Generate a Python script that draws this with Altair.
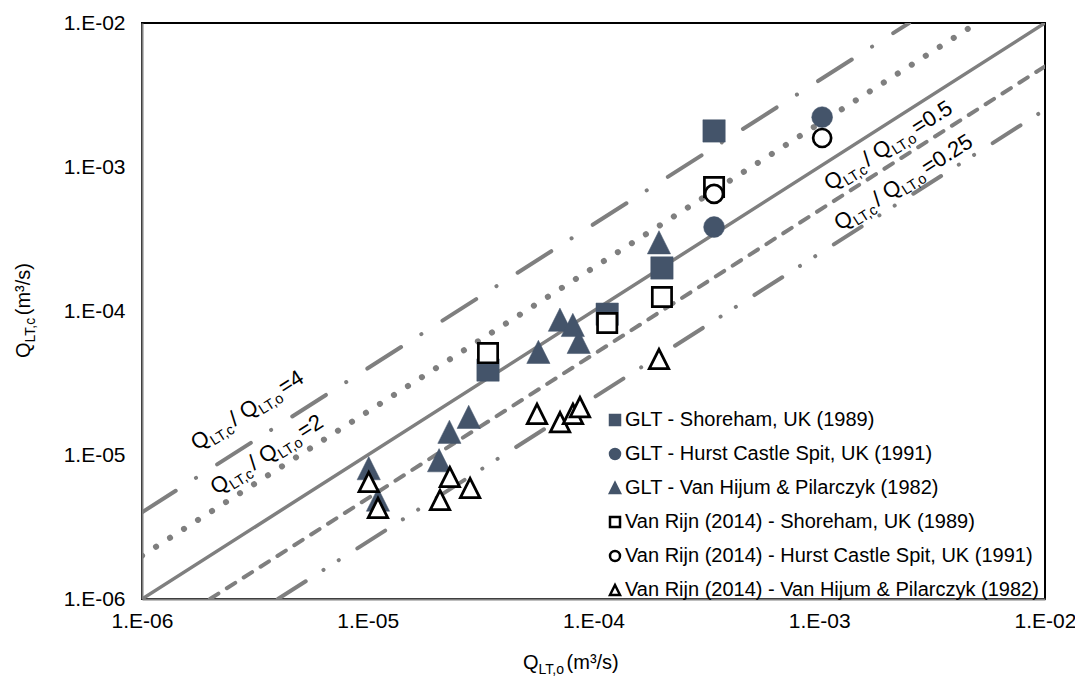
import altair as alt
import pandas as pd

# ---------------- data ----------------
series_names = [
    "GLT - Shoreham, UK (1989)",
    "GLT - Hurst Castle Spit, UK (1991)",
    "GLT - Van Hijum & Pilarczyk (1982)",
    "Van Rijn (2014) - Shoreham, UK (1989)",
    "Van Rijn (2014) - Hurst Castle Spit, UK (1991)",
    "Van Rijn (2014) - Van Hijum & Pilarczyk (1982)",
]

glt_shoreham_x = [3.42e-4, 2.01e-4, 1.15e-4, 3.41e-5]
glt_shoreham_y = [1.78e-3, 1.99e-4, 9.5e-5, 3.89e-5]

glt_hurst_x = [1.03e-3, 3.42e-4]
glt_hurst_y = [2.22e-3, 3.83e-4]

glt_vanhijum_x = [1.95e-4, 7.1e-5, 8.1e-5, 8.6e-5, 5.7e-5, 2.8e-5, 2.3e-5, 2.07e-5, 1.01e-5, 1.11e-5]
glt_vanhijum_y = [3.0e-4, 8.7e-5, 8.0e-5, 6.1e-5, 5.2e-5, 1.84e-5, 1.45e-5, 9.2e-6, 8.1e-6, 4.9e-6]

vr_shoreham_x = [3.42e-4, 2.01e-4, 1.15e-4, 3.41e-5]
vr_shoreham_y = [7.26e-4, 1.25e-4, 8.26e-5, 5.1e-5]

vr_hurst_x = [1.03e-3, 3.42e-4]
vr_hurst_y = [1.59e-3, 6.5e-4]

vr_vanhijum_x = [1.95e-4, 5.62e-5, 7.11e-5, 8.11e-5, 8.71e-5, 2.31e-5, 2.84e-5, 2.09e-5, 1.01e-5, 1.11e-5]
vr_vanhijum_y = [4.64e-5, 1.93e-5, 1.69e-5, 1.93e-5, 2.15e-5, 7.03e-6, 5.9e-6, 4.87e-6, 6.5e-6, 4.29e-6]

tick_values = [1e-6, 1e-5, 1e-4, 1e-3, 1e-2]

# reference ratio lines Q_LT,c / Q_LT,o = r
ratios = [4, 2, 1, 0.5, 0.25]
ratio_label_text = ["=4", "=2", None, "=0.5", "=0.25"]
# anchor (left baseline of the "Q") of each ratio label, in data units
ratio_label_x = [1.75e-6, 2.13e-6, None, 1.116e-3, 1.236e-3]
ratio_label_y = [1.07e-5, 5.28e-6, None, 6.81e-4, 3.59e-4]

# ---------------- styling ----------------
FONT = "Liberation Sans"
SLATE = "#44546A"
GRAY = "#7f7f7f"
TRI = "M0,-1L1,1L-1,1Z"
shapes = ["square", "circle", TRI, "square", "circle", TRI]
fills = [SLATE, SLATE, SLATE, "#ffffff", "#ffffff", "#ffffff"]
strokes = [SLATE, SLATE, SLATE, "#000000", "#000000", "#000000"]
sizes = [500, 434, 540, 372, 324, 375]
stroke_widths = [0.5, 0.5, 0.5, 2.7, 2.7, 2.8]

line_styles = {
    4: dict(strokeDash=[40, 24, 0.1, 25], strokeWidth=4),
    2: dict(strokeDash=[0.1, 16.5], strokeWidth=6),
    1: dict(strokeWidth=3.5),
    0.5: dict(strokeDash=[10, 10], strokeWidth=4),
    0.25: dict(strokeDash=[33, 21, 0.1, 18, 0.1, 22], strokeWidth=4),
}

# Arial / Liberation Sans advance widths (em units) for label layout
W = {"Q": .778, "L": .556, "T": .611, ",": .278, "c": .5, "o": .556, "/": .278,
     " ": .278, "=": .584, ".": .278, "(": .333, ")": .333, "m": .833,
     "³": .333, "s": .5}
for d in "0123456789":
    W[d] = .556


def tw(s, size):
    return sum(W.get(ch, .556) for ch in s) * size


# ---------------- build ----------------
W_PLOT, H_PLOT = 903, 576
xscale = alt.Scale(type="log", domain=[1e-6, 1e-2], nice=False)
yscale = alt.Scale(type="log", domain=[1e-6, 1e-2], nice=False)
label_expr = "'1.E-0' + round(-log(datum.value)/LN10)"
xaxis = alt.Axis(values=tick_values, labelExpr=label_expr, title=None, grid=False,
                 ticks=False, labelFont=FONT, labelFontSize=21, labelColor="#000",
                 labelPadding=11, domainColor=GRAY, domainWidth=2, labelFlush=False,
                 labelOverlap=False)
yaxis = alt.Axis(values=tick_values, labelExpr=label_expr, title=None, grid=False,
                 ticks=False, labelFont=FONT, labelFontSize=21, labelColor="#000",
                 labelPadding=17, domainColor=GRAY, domainWidth=2, labelOverlap=False)


def X(field):
    return alt.X(field, type="quantitative", scale=xscale, axis=xaxis)


def Y(field):
    return alt.Y(field, type="quantitative", scale=yscale, axis=yaxis)


layers = []

# ratio lines
for r in ratios:
    x0 = max(1e-6, 1e-6 / r)
    x1 = min(1e-2, 1e-2 / r)
    df = pd.DataFrame({"qo": [x0, x1], "qc": [r * x0, r * x1]})
    st = dict(line_styles[r])
    layers.append(
        alt.Chart(df).mark_line(color=GRAY, strokeCap="round", clip=True, **st)
        .encode(x=X("qo"), y=Y("qc"))
    )

# points
rows = []
for k, (name, xs, ys) in enumerate(zip(
        series_names,
        [glt_shoreham_x, glt_hurst_x, glt_vanhijum_x, vr_shoreham_x, vr_hurst_x, vr_vanhijum_x],
        [glt_shoreham_y, glt_hurst_y, glt_vanhijum_y, vr_shoreham_y, vr_hurst_y, vr_vanhijum_y])):
    for xv, yv in zip(xs, ys):
        rows.append({"series": name, "qo": xv, "qc": yv, "sz": sizes[k],
                     "sw": stroke_widths[k]})
pts = pd.DataFrame(rows)

leg = alt.Legend(title=None, orient="none", legendX=463, legendY=387, symbolSize=100,
                 symbolStrokeWidth=2.5, labelFont=FONT, labelFontSize=20,
                 labelColor="#000", rowPadding=14, labelOffset=0, padding=0,
                 labelLimit=0, symbolOpacity=1)

points = alt.Chart(pts).mark_point(filled=True, opacity=1).encode(
    x=X("qo"), y=Y("qc"),
    shape=alt.Shape("series:N", scale=alt.Scale(domain=series_names, range=shapes), legend=leg),
    fill=alt.Fill("series:N", scale=alt.Scale(domain=series_names, range=fills), legend=leg),
    stroke=alt.Stroke("series:N", scale=alt.Scale(domain=series_names, range=strokes), legend=leg),
    size=alt.Size("sz:Q", scale=None),
    strokeWidth=alt.StrokeWidth("sw:Q", scale=None),
)
layers.append(points)

# ratio labels, built as pieces (main text + subscripts)
MAIN, SUB, SUBDY = 22, 14.5, 5
ANGLE = 327.47
lab_idx = [i for i, t in enumerate(ratio_label_text) if t is not None]
piece_defs = [("Q", False), ("LT,c", True), ("/ Q", False), ("LT,o", True), (None, False)]
cum = 0.0
for txt, is_sub in piece_defs:
    texts = [(txt if txt is not None else ratio_label_text[i]) for i in lab_idx]
    df = pd.DataFrame({
        "qo": [ratio_label_x[i] for i in lab_idx],
        "qc": [ratio_label_y[i] for i in lab_idx],
        "t": texts,
    })
    size = SUB if is_sub else MAIN
    layers.append(
        alt.Chart(df).mark_text(angle=ANGLE, align="left", baseline="alphabetic",
                                dx=cum, dy=SUBDY if is_sub else 0, fontSize=size,
                                font=FONT, color="#000")
        .encode(x=X("qo"), y=Y("qc"), text="t:N")
    )
    if txt is not None:
        cum += tw(txt, size)


# axis titles (with subscripts), positioned in pixels relative to the plot area
def title_pieces(pieces, px, py, angle):
    out = []
    c = 0.0
    for txt, is_sub in pieces:
        size = 14 if is_sub else 20
        kw = dict(align="left", baseline="alphabetic", dx=c, dy=5 if is_sub else 0,
                  fontSize=size, font=FONT, color="#000")
        if angle:
            kw["angle"] = angle
        out.append(
            alt.Chart(pd.DataFrame({"t": [txt]})).mark_text(**kw)
            .encode(x=alt.value(px), y=alt.value(py), text="t:N")
        )
        c += tw(txt, size)
    return out


layers += title_pieces([("Q", False), ("LT,o", True), (" (m³/s)", False)], 381, 646, None)
layers += title_pieces([("Q", False), ("LT,c", True), (" (m³/s)", False)], -112, 335, 270)

chart = alt.layer(*layers).properties(
    width=W_PLOT, height=H_PLOT,
    autosize=alt.AutoSizeParams(type="none"),
    padding={"left": 134, "top": 15, "right": 30, "bottom": 80},
    background="#ffffff",
).configure_view(stroke="#000000", strokeWidth=2)

chart.save("out.html", embed_options={"renderer": "svg", "actions": False})
